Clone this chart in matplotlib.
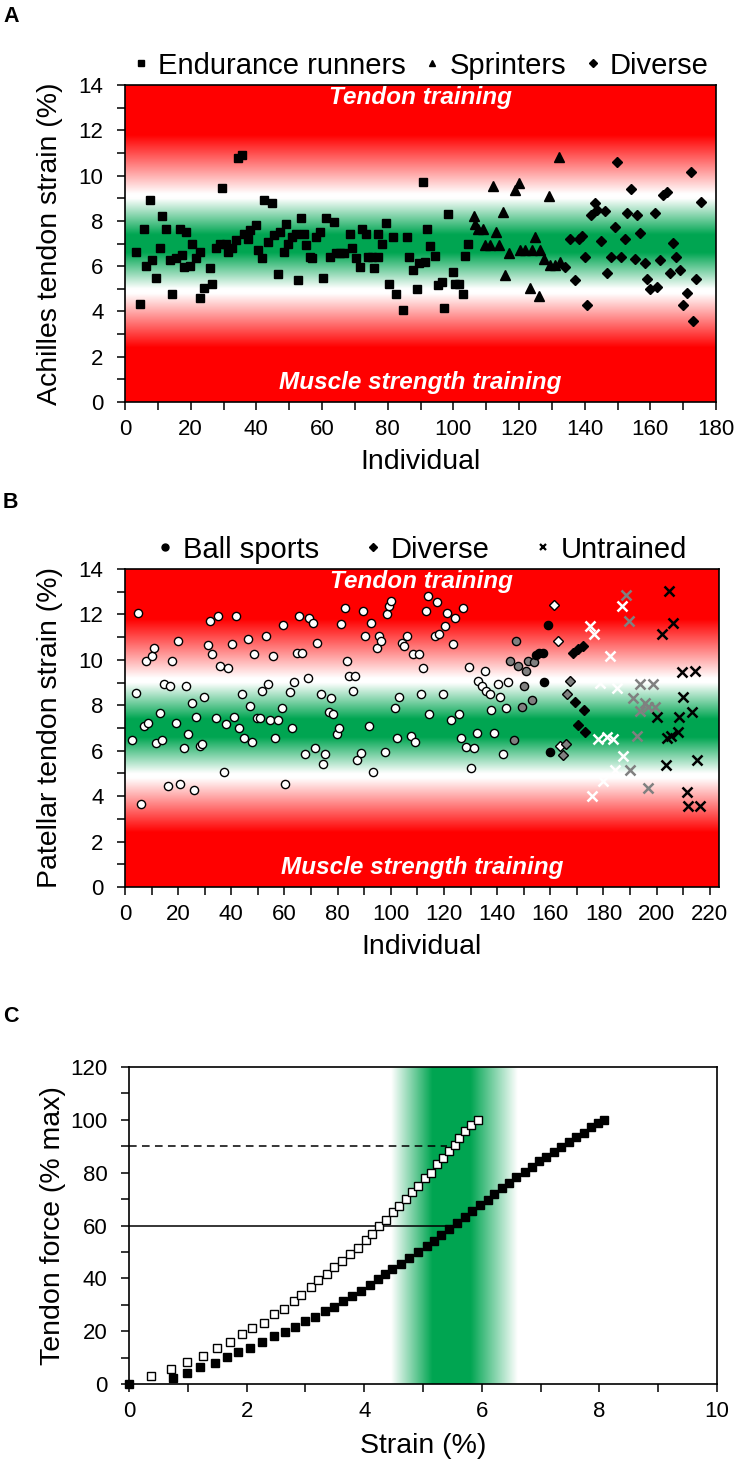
import numpy as np
import matplotlib.pyplot as plt
from matplotlib.lines import Line2D
from matplotlib.ticker import MultipleLocator

plt.rcParams['font.family'] = ['Liberation Sans', 'DejaVu Sans']

# ---- Panel A: Achilles tendon strain per individual ----
endurance_x = [3.4, 4.6, 5.8, 6.4, 7.6, 8.2, 9.4, 10.7, 11.3, 12.5, 13.7, 14.3, 15.5, 16.8, 17.4, 18.0,
               18.6, 19.8, 20.4, 21.6, 22.8, 22.8, 24.1, 25.9, 26.5, 27.7, 28.9, 29.5, 30.8, 31.4, 32.6,
               33.8, 34.4, 35.6, 36.2, 37.5, 38.1, 39.9, 40.5, 41.7, 42.3, 43.6, 44.8, 45.4, 46.6, 47.2,
               48.4, 49.0, 49.6, 50.9, 52.1, 52.7, 53.6, 54.5, 55.1, 56.3, 56.9, 58.2, 59.4, 60.4, 61.2,
               62.4, 63.6, 64.3, 65.5, 66.7, 68.5, 69.1, 70.4, 71.6, 72.2, 73.4, 74.0, 75.2, 75.8, 77.0,
               77.0, 78.3, 79.5, 80.3, 81.5, 82.5, 84.6, 85.8, 86.4, 87.6, 88.8, 89.4, 90.7, 91.3, 91.9,
               92.9, 94.4, 95.4, 96.4, 97.2, 98.5, 99.8, 100.5, 101.6, 102.8, 103.5, 104.6]
endurance_y = [6.63, 4.35, 7.66, 6.0, 8.9, 6.26, 5.48, 6.78, 8.2, 7.66, 6.26, 4.76, 6.34, 7.66, 6.48, 5.97,
               7.5, 6.0, 7.0, 6.34, 6.63, 4.61, 5.05, 5.92, 5.19, 6.78, 6.97, 9.46, 7.0, 6.63, 6.78,
               7.15, 10.76, 10.93, 7.44, 7.22, 7.59, 7.81, 6.7, 6.34, 8.9, 7.07, 8.81, 7.37, 5.64, 7.51,
               6.63, 7.88, 7.0, 7.29, 7.44, 5.41, 8.13, 7.44, 6.93, 6.41, 6.34, 7.29, 7.51, 5.48, 8.13,
               6.41, 7.96, 6.59, 6.56, 6.56, 7.44, 6.78, 6.34, 5.97, 7.66, 7.44, 6.41, 6.41, 5.92, 6.41,
               7.44, 6.97, 7.91, 5.2, 7.29, 4.76, 4.08, 7.29, 6.41, 5.82, 4.97, 6.12, 9.7, 6.19, 7.66,
               6.87, 6.44, 5.16, 5.3, 4.16, 8.3, 5.75, 5.19, 5.2, 4.79, 6.44, 6.97]

sprinter_x = [106.2, 106.6, 107.6, 109.1, 109.6, 111.2, 112.2, 112.9, 114.0, 115.2, 115.8, 117.1, 118.8,
              120.0, 120.3, 121.8, 123.2, 123.9, 124.9, 126.2, 126.4, 127.6, 129.2, 129.4, 131.0, 132.3,
              132.5]
sprinter_y = [8.22, 7.88, 7.66, 7.62, 6.93, 6.93, 9.55, 7.52, 6.93, 8.4, 5.6, 6.59, 9.36,
              9.65, 6.7, 6.7, 5.05, 6.7, 7.27, 4.69, 6.73, 6.31, 9.1, 6.04, 6.04, 10.8,
              6.19]

diverse_a_x = [134.0, 135.5, 137.0, 138.4, 139.1, 140.1, 140.8, 141.9, 143.2, 143.7, 145.0, 146.2, 146.7,
               147.9, 149.2, 149.7, 151.1, 152.3, 152.8, 154.0, 155.3, 155.8, 157.0, 158.4, 158.9, 159.9,
               161.4, 161.9, 162.9, 164.0, 165.0, 166.0, 166.8, 167.8, 169.0, 169.8, 171.1, 172.3, 172.9,
               173.9, 175.3]
diverse_a_y = [5.97, 7.18, 5.38, 7.18, 7.32, 6.41, 4.27, 8.25, 8.77, 8.47, 7.12, 8.43, 5.7,
               6.41, 7.71, 10.61, 6.41, 7.18, 8.33, 9.39, 6.31, 8.25, 7.47, 6.15, 5.45, 5.01,
               8.33, 5.08, 6.29, 9.14, 9.28, 5.7, 7.03, 6.41, 5.85, 4.27, 4.82, 10.17, 3.58,
               5.45, 8.84]

# ---- Panel B: patellar tendon strain per individual ----
ball_white_x = [2.8, 4.1, 5.0, 5.9, 7.1, 7.9, 8.8, 10.3, 10.9, 11.7, 13.2, 14.0, 14.7, 16.3, 16.9, 17.7,
                19.2, 20.1, 20.7, 22.2, 22.9, 23.7, 25.2, 25.9, 26.7, 28.2, 29.0, 29.7, 31.2, 31.9, 32.7,
                34.2, 35.0, 35.7, 37.2, 37.9, 38.6, 40.1, 41.0, 41.8, 43.0, 44.0, 44.8, 46.2, 47.0, 47.8,
                48.5, 49.5, 50.8, 51.5, 52.9, 53.9, 54.6, 55.8, 56.6, 57.6, 59.1, 59.6, 60.3, 62.1, 62.7,
                63.5, 64.6, 65.6, 66.5, 67.9, 68.7, 69.4, 70.9, 71.6, 72.4, 73.7, 74.6, 75.4, 76.6, 77.4,
                78.4, 79.8, 80.5, 81.1, 82.9, 83.6, 84.1, 85.9, 86.7, 87.2, 88.9, 89.4, 90.3, 91.9, 92.5,
                93.4, 94.7, 95.7, 96.4, 97.9, 98.4, 99.2, 100.1, 101.5, 102.3, 103.2, 104.2, 104.9, 106.0,
                107.5, 108.2, 109.0, 110.7, 111.4, 112.0, 113.2, 114.1, 114.5, 116.6, 117.3, 118.3, 119.5,
                120.4, 121.0, 122.5, 123.3, 124.2, 125.5, 126.3, 127.0, 128.3, 129.3, 130.1, 131.3, 132.3,
                132.9, 134.2, 135.3, 135.8, 137.3, 137.9, 138.8, 140.4, 141.1, 142.1, 143.3, 144.2]
ball_white_y = [6.45, 8.56, 12.08, 3.66, 7.09, 9.97, 7.24, 10.15, 10.51, 6.36, 7.68, 6.45, 8.94, 4.45, 8.83, 9.97,
                7.24, 10.85, 4.54, 6.14, 8.83, 6.73, 8.12, 4.27, 7.5, 6.21, 6.3, 8.38, 10.66, 11.72, 10.25,
                7.43, 11.91, 9.74, 5.08, 7.18, 9.62, 10.68, 7.5, 11.91, 7.0, 8.49, 6.55, 10.94, 7.97, 6.37,
                10.25, 7.43, 7.43, 8.65, 11.03, 8.94, 7.36, 10.15, 6.55, 7.36, 7.87, 11.54, 4.54, 8.58, 6.99,
                9.02, 10.32, 11.91, 10.32, 5.84, 9.19, 11.84, 11.64, 6.14, 10.76, 8.5, 5.42, 5.86, 7.71, 8.31,
                7.61, 6.73, 7.02, 11.57, 12.28, 9.97, 9.27, 8.65, 9.27, 5.59, 5.92, 12.16, 11.03, 7.09, 11.64,
                5.08, 10.5, 11.03, 10.85, 5.95, 12.01, 12.35, 12.6, 7.87, 6.55, 8.38, 10.76, 10.62, 11.03,
                6.65, 10.25, 6.4, 10.25, 8.49, 9.62, 12.16, 12.79, 7.61, 11.03, 12.53, 11.13, 8.49,
                11.5, 12.08, 7.36, 10.69, 11.84, 7.61, 6.58, 12.28, 6.15, 9.7, 5.26, 6.14, 6.8,
                9.09, 8.83, 9.53, 8.65, 8.49, 7.8, 6.8, 8.93, 8.38, 5.84, 7.87, 9.02]
ball_gray_x = [144.8, 146.5, 147.1, 147.9, 149.5, 150.2, 150.9, 151.5, 153.3, 154.0]
ball_gray_y = [9.97, 6.48, 10.85, 9.71, 7.94, 8.85, 9.53, 9.97, 8.24, 9.9]
ball_black_x = [154.6, 155.9, 157.1, 157.8, 159.3, 159.9]
ball_black_y = [10.22, 10.32, 10.32, 9.02, 11.54, 5.93]

div_white_x = [161.5, 162.8, 163.7]
div_white_y = [12.42, 10.85, 6.21]
div_gray_x = [164.7, 165.8, 166.2, 167.5]
div_gray_y = [5.82, 6.3, 8.5, 9.05]
div_black_x = [168.7, 169.3, 170.6, 170.6, 172.2, 172.7, 173.1]
div_black_y = [10.32, 8.16, 10.47, 7.14, 10.59, 7.8, 6.84]

untr_white_x = [175.0, 175.6, 176.5, 178.1, 178.7, 180.0, 181.2, 182.5, 183.7, 184.3, 185.2, 186.9, 187.5]
untr_white_y = [11.47, 4.01, 11.15, 6.5, 8.97, 4.67, 6.62, 10.15, 6.5, 5.15, 8.75, 12.35, 5.77]
untr_gray_x = [188.5, 189.8, 190.2, 191.3, 192.7, 193.7, 193.7, 195.6, 196.6, 196.7, 198.8, 199.4]
untr_gray_y = [12.86, 11.73, 5.15, 8.31, 6.65, 8.93, 7.77, 8.12, 4.38, 7.91, 8.93, 7.94]
untr_black_x = [200.3, 201.9, 203.5, 204.1, 204.8, 205.4, 206.3, 207.9, 208.5, 209.4, 210.1, 211.3, 211.9,
                213.2, 214.4, 215.3, 216.3]
untr_black_y = [7.5, 11.13, 5.35, 6.55, 13.05, 6.65, 11.62, 6.84, 7.5, 9.46, 8.38, 4.2, 3.57,
                7.69, 9.52, 5.59, 3.57]

# ---- Panel C: force-strain curves ----
strain_open = [0.38, 0.71, 0.99, 1.25, 1.49, 1.72, 1.92, 2.09, 2.29, 2.46, 2.63, 2.80, 2.93, 3.09, 3.22,
               3.36, 3.49, 3.63, 3.76, 3.90, 4.03, 4.14, 4.25, 4.37, 4.49, 4.60, 4.71, 4.81, 4.92, 5.04,
               5.14, 5.24, 5.34, 5.45, 5.55, 5.62, 5.72, 5.81, 5.93]
force_open = [3.1, 5.7, 8.5, 10.7, 13.6, 16.0, 18.8, 21.1, 23.2, 26.4, 28.5, 31.4, 33.7, 36.7, 39.2,
              41.8, 44.2, 46.5, 49.3, 51.5, 54.4, 56.9, 59.7, 61.9, 65.0, 67.5, 70.1, 72.6, 75.0, 77.9,
              80.0, 83.2, 85.4, 88.2, 90.5, 93.2, 95.7, 98.0, 100.0]
strain_filled = [0, 0.75, 0.99, 1.21, 1.46, 1.66, 1.85, 2.06, 2.26, 2.46, 2.66, 2.82, 2.99, 3.16, 3.33,
                 3.49, 3.64, 3.80, 3.95, 4.10, 4.23, 4.35, 4.48, 4.62, 4.77, 4.91, 5.06, 5.18, 5.31, 5.45,
                 5.57, 5.71, 5.83, 5.97, 6.10, 6.21, 6.34, 6.47, 6.59, 6.73, 6.85, 6.97, 7.10, 7.22, 7.35,
                 7.48, 7.61, 7.73, 7.86, 7.98, 8.08]
force_filled = [0, 2.3, 4.1, 6.3, 7.8, 10.1, 12.2, 13.8, 16.0, 18.0, 19.5, 21.7, 23.9, 25.5, 27.6,
                29.3, 31.4, 33.5, 35.2, 37.4, 39.6, 41.5, 43.6, 45.6, 47.6, 50.0, 52.1, 54.3, 56.5, 58.8,
                60.9, 63.2, 65.6, 67.6, 69.7, 72.0, 74.1, 76.0, 78.3, 80.4, 82.3, 84.4, 86.1, 87.9, 89.8,
                91.7, 93.6, 95.2, 97.1, 98.9, 100.0]
ref_force = [90, 60]
ref_strain = [5.4, 5.45]

RED = (1.0, 0.0, 0.0)
WHITE = (1.0, 1.0, 1.0)
GREEN = (0.0, 0.65, 0.32)
GRAY = '#808080'
LABEL_FS = 20.5


def strain_background(ax, xmax):
    # red - white - green - white - red zones along the strain axis
    stops = [0, 2.4, 4.8, 5.0, 6.6, 7.4, 9.0, 9.2, 11.8, 14]
    cols = [RED, RED, WHITE, WHITE, GREEN, GREEN, WHITE, WHITE, RED, RED]
    yy = np.linspace(0, 14, 600)
    img = np.stack([np.interp(yy, stops, [c[i] for c in cols]) for i in range(3)], axis=-1)[:, None, :]
    ax.imshow(img, extent=[0, xmax, 0, 14], origin='lower', aspect='auto',
              interpolation='bilinear', zorder=0)
    ax.text(xmax / 2, 13.45, 'Tendon training', ha='center', va='center', color='white',
            fontsize=17.5, fontweight='bold', fontstyle='italic')
    ax.text(xmax / 2, 0.85, 'Muscle strength training', ha='center', va='center', color='white',
            fontsize=17.5, fontweight='bold', fontstyle='italic')


def style_axes(ax):
    for sp in ax.spines.values():
        sp.set_linewidth(1.2)
    ax.tick_params(which='both', direction='out', length=5.5, width=1.1, labelsize=16,
                   top=False, right=False)
    ax.tick_params(axis='x', which='both', pad=7)
    ax.tick_params(axis='y', which='both', pad=10)


fig = plt.figure(figsize=(7.39, 14.69), dpi=100)

# Panel A
axA = fig.add_axes([125 / 739, 1 - 402 / 1469, 591 / 739, 317 / 1469])
strain_background(axA, 180)
axA.plot(endurance_x, endurance_y, 's', color='black', ms=5.6, zorder=3, label='Endurance runners')
axA.plot(sprinter_x, sprinter_y, '^', color='black', ms=6.5, zorder=3, label='Sprinters')
axA.plot(diverse_a_x, diverse_a_y, 'D', color='black', ms=5.0, zorder=3, label='Diverse')
axA.set_xlim(0, 180)
axA.set_ylim(0, 14)
axA.xaxis.set_major_locator(MultipleLocator(20))
axA.xaxis.set_minor_locator(MultipleLocator(10))
axA.yaxis.set_major_locator(MultipleLocator(2))
axA.yaxis.set_minor_locator(MultipleLocator(1))
style_axes(axA)
axA.set_xlabel('Individual', fontsize=LABEL_FS, labelpad=6)
axA.set_ylabel('Achilles tendon strain (%)', fontsize=LABEL_FS, labelpad=11)
axA.legend(loc='lower center', bbox_to_anchor=(0.5, 0.98), ncol=3, frameon=False, fontsize=21,
           markerscale=0.75, handlelength=0.6, handletextpad=0.3, columnspacing=0.6,
           borderaxespad=0.0)

# Panel B
axB = fig.add_axes([125 / 739, 1 - 887 / 1469, 594 / 739, 318 / 1469])
strain_background(axB, 223.5)
ms_c, ms_d, ms_x = 5.9, 5.2, 6.8
axB.plot(ball_white_x, ball_white_y, 'o', mfc='white', mec='black', mew=1.0, ms=ms_c, zorder=3)
axB.plot(ball_gray_x, ball_gray_y, 'o', mfc=GRAY, mec='black', mew=1.0, ms=ms_c, zorder=3)
axB.plot(ball_black_x, ball_black_y, 'o', mfc='black', mec='black', mew=1.0, ms=ms_c, zorder=3)
axB.plot(div_white_x, div_white_y, 'D', mfc='white', mec='black', mew=1.0, ms=ms_d, zorder=3)
axB.plot(div_gray_x, div_gray_y, 'D', mfc=GRAY, mec='black', mew=1.0, ms=ms_d, zorder=3)
axB.plot(div_black_x, div_black_y, 'D', mfc='black', mec='black', mew=1.0, ms=ms_d, zorder=3)
axB.plot(untr_white_x, untr_white_y, 'x', color='white', mew=1.8, ms=ms_x, zorder=3)
axB.plot(untr_gray_x, untr_gray_y, 'x', color=GRAY, mew=1.8, ms=ms_x, zorder=3)
axB.plot(untr_black_x, untr_black_y, 'x', color='black', mew=1.8, ms=ms_x, zorder=3)
axB.set_xlim(0, 223.5)
axB.set_ylim(0, 14)
axB.xaxis.set_major_locator(MultipleLocator(20))
axB.xaxis.set_minor_locator(MultipleLocator(10))
axB.yaxis.set_major_locator(MultipleLocator(2))
axB.yaxis.set_minor_locator(MultipleLocator(1))
style_axes(axB)
axB.set_xlabel('Individual', fontsize=LABEL_FS, labelpad=6)
axB.set_ylabel('Patellar tendon strain (%)', fontsize=LABEL_FS, labelpad=11)
handles = [Line2D([], [], ls='none', marker='o', color='black', ms=5),
           Line2D([], [], ls='none', marker='D', color='black', ms=4),
           Line2D([], [], ls='none', marker='x', color='black', ms=5, mew=1.6)]
axB.legend(handles, ['Ball sports', 'Diverse', 'Untrained'], loc='lower center',
           bbox_to_anchor=(0.5, 0.98), ncol=3, frameon=False, fontsize=21, handlelength=0.6,
           handletextpad=0.3, columnspacing=1.55, borderaxespad=0.0)

# Panel C
axC = fig.add_axes([129 / 739, 1 - 1384 / 1469, 588 / 739, 317 / 1469])
xs = np.linspace(4.45, 6.6, 400)
alpha = np.interp(xs, [4.45, 5.15, 5.8, 6.6], [0, 1, 1, 0])
band = np.zeros((1, len(xs), 4))
band[0, :, :3] = GREEN
band[0, :, 3] = alpha
axC.imshow(band, extent=[4.45, 6.6, 0, 120], aspect='auto', interpolation='bilinear', zorder=0)
axC.hlines(ref_force[0], 0, ref_strain[0], colors='black', linestyles=(0, (5, 3.5)), lw=1.1, zorder=2)
axC.hlines(ref_force[1], 0, ref_strain[1], colors='black', linestyles='-', lw=1.1, zorder=2)
axC.plot(strain_filled, force_filled, 's', color='black', ms=5.4, zorder=3, clip_on=False)
axC.plot(strain_open, force_open, 's', mfc='white', mec='black', mew=1.0, ms=5.2, zorder=4)
axC.set_xlim(0, 10)
axC.set_ylim(0, 120)
axC.xaxis.set_major_locator(MultipleLocator(2))
axC.xaxis.set_minor_locator(MultipleLocator(1))
axC.yaxis.set_major_locator(MultipleLocator(20))
axC.yaxis.set_minor_locator(MultipleLocator(10))
style_axes(axC)
axC.set_xlabel('Strain (%)', fontsize=LABEL_FS, labelpad=8)
axC.set_ylabel('Tendon force (% max)', fontsize=LABEL_FS, labelpad=3)

for letter, ytop in [('A', 6), ('B', 492), ('C', 1006)]:
    fig.text(3 / 739, 1 - ytop / 1469, letter, ha='left', va='top', fontsize=15.5, fontweight='bold')

fig.savefig('out.png', dpi=100)
